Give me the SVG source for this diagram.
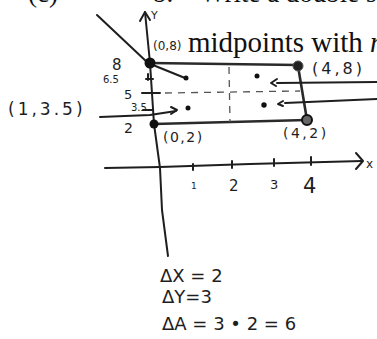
<svg xmlns="http://www.w3.org/2000/svg" width="377" height="339" viewBox="0 0 377 339">
<style>
.ink{fill:none;stroke:#1e1e1e;stroke-width:2;stroke-linecap:round;stroke-linejoin:round}
.edge{fill:none;stroke:#2a2a2a;stroke-width:2.6;stroke-linecap:round}
.dash{fill:none;stroke:#555;stroke-width:1.3;stroke-dasharray:7 6}
.hand{font-family:"DejaVu Sans","Liberation Sans",sans-serif;fill:#1e1e1e}
.print{font-family:"Liberation Serif",serif;fill:#111}
.dot{fill:#111}
</style>
<rect width="377" height="339" fill="#fff"/>
<g id="header">
<text class="print" x="28" y="2" font-size="27">(c)</text>
<text class="print" x="153" y="2" font-size="27">b.</text>
<text class="print" x="200" y="2" font-size="27">Write a double s</text>
<text class="print" x="188" y="52" font-size="29">midpoints with <tspan font-style="italic">n</tspan></text>
</g>
<g id="connectors">
<polyline class="ink" points="145,12 150,63 154,124 160,168 162,210 168,256"/>
<polyline class="ink" points="140,21 145,12 150,20"/>
<polyline class="ink" points="105,168 160,167 250,164 362,161"/>
<polyline class="ink" points="356,153 363,161 356,169"/>
<path class="ink" d="M193,164V170M232,161V168M274,159V166M311,157V165" stroke-width="1.6"/>
<path class="ink" d="M146,79H153M148,74V80M142,93H160M143,110H153" stroke-width="1.5"/>
<path class="edge" d="M150,63 L298,65"/>
<path class="edge" d="M298,66 L307,120"/>
<path class="edge" d="M154,124 L307,120"/>
<path class="dash" d="M165,93 L300,91"/>
<path class="dash" d="M229,67 L230,122"/>
<polyline class="ink" points="97,15 148,63 185,78"/>
<polyline class="ink" points="100,117 150,115 176,111" stroke-width="1.6"/>
<polyline class="ink" points="171,107 177,110 171,114" stroke-width="1.6"/>
<path class="ink" d="M377,82 L277,83" stroke-width="1.6"/>
<polyline class="ink" points="277,79 271,83 276,86" stroke-width="1.6"/>
<path class="ink" d="M377,99 L285,103" stroke-width="1.6"/>
<polyline class="ink" points="283,101 278,104 283,106" stroke-width="1.4"/>
</g>
<g id="points">
<circle class="dot" cx="150" cy="63" r="5.5"/>
<circle cx="298" cy="66" r="5" fill="#222" stroke="#555" stroke-width="1"/>
<circle class="dot" cx="154" cy="124" r="4.5"/>
<circle cx="307" cy="120" r="5" fill="#666" stroke="#111" stroke-width="2"/>
<circle class="dot" cx="186" cy="78" r="2.5"/>
<circle class="dot" cx="257" cy="76" r="2.5"/>
<circle class="dot" cx="188" cy="108" r="2.5"/>
<circle class="dot" cx="264" cy="105" r="2.7"/>
</g>
<g id="labels">
<text class="hand" x="151" y="19" font-size="11">Y</text>
<text class="hand" x="366" y="168" font-size="12">x</text>
<text class="hand" x="153" y="50" font-size="12">(0,8)</text>
<text class="hand" x="112" y="70" font-size="15">8</text>
<text class="hand" x="103" y="83" font-size="10">6.5</text>
<text class="hand" x="124" y="99" font-size="13">5</text>
<text class="hand" x="131" y="111" font-size="10">3.5</text>
<text class="hand" x="124" y="133" font-size="14">2</text>
<text class="hand" x="8" y="115" font-size="17" letter-spacing="3">(1,3.5)</text>
<text class="hand" x="312" y="74" font-size="16" letter-spacing="3">(4,8)</text>
<text class="hand" x="163" y="142" font-size="14" letter-spacing="1.5">(0,2)</text>
<text class="hand" x="283" y="138" font-size="14" letter-spacing="2.5">(4,2)</text>
<text class="hand" x="191" y="189" font-size="9">1</text>
<text class="hand" x="229" y="191" font-size="15">2</text>
<text class="hand" x="270" y="189" font-size="13">3</text>
<text class="hand" x="303" y="193" font-size="21">4</text>
<text class="hand" x="160" y="282" font-size="18">ΔX = 2</text>
<text class="hand" x="162" y="303" font-size="18">ΔY=3</text>
<text class="hand" x="162" y="330" font-size="18">ΔA = 3 • 2 = 6</text>
</g>
</svg>
